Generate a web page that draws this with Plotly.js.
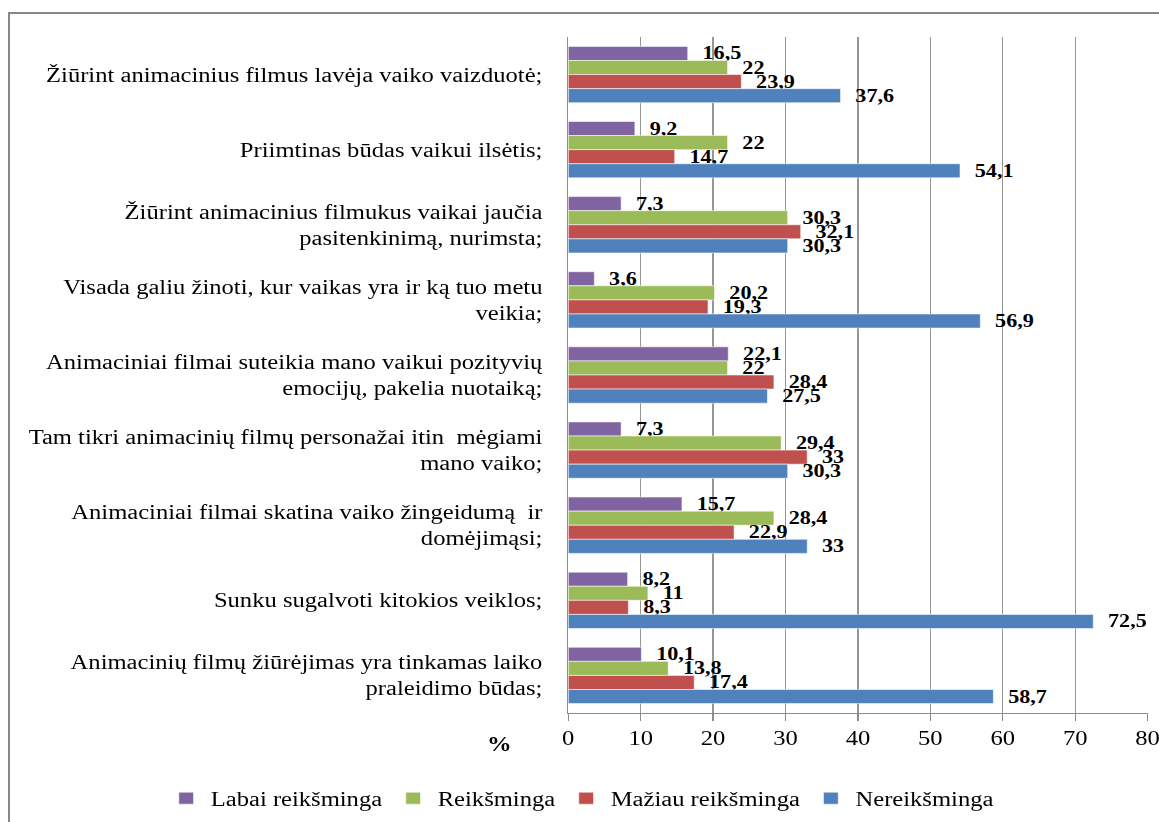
<!DOCTYPE html>
<html>
<head>
<meta charset="utf-8">
<script src="https://cdn.plot.ly/plotly-3.0.1.min.js"></script>
<style>
  html, body { margin: 0; padding: 0; background: #fff; }
  #wrap { position: relative; width: 1159px; height: 822px; overflow: hidden; }
  #chart { position: absolute; left: 0; top: 0; width: 950px; height: 822px;
           transform: scaleX(1.23); transform-origin: 0 0; }
  #frame { position: absolute; left: 8px; top: 12px; width: 1200px; height: 900px;
           border: 2px solid #878787; box-sizing: border-box; pointer-events: none; }
</style>
</head>
<body>
<div id="wrap"><div id="chart"></div><div id="frame"></div></div>
<script>
const categories = [
  "Žiūrint animacinius filmus lavėja vaiko vaizduotė;",
  "Priimtinas būdas vaikui ilsėtis;",
  "Žiūrint animacinius filmukus vaikai jaučia<br>pasitenkinimą, nurimsta;",
  "Visada galiu žinoti, kur vaikas yra ir ką tuo metu<br>veikia;",
  "Animaciniai filmai suteikia mano vaikui pozityvių<br>emocijų, pakelia nuotaiką;",
  "Tam tikri animacinių filmų personažai itin  mėgiami<br>mano vaiko;",
  "Animaciniai filmai skatina vaiko žingeidumą  ir<br>domėjimąsi;",
  "Sunku sugalvoti kitokios veiklos;",
  "Animacinių filmų žiūrėjimas yra tinkamas laiko<br>praleidimo būdas;"
];
const seriesNames = ["Labai reikšminga", "Reikšminga", "Mažiau reikšminga", "Nereikšminga"];
const labaiReiksminga   = [16.5, 9.2, 7.3, 3.6, 22.1, 7.3, 15.7, 8.2, 10.1];
const reiksminga        = [22, 22, 30.3, 20.2, 22, 29.4, 28.4, 11, 13.8];
const maziauReiksminga  = [23.9, 14.7, 32.1, 19.3, 28.4, 33, 22.9, 8.3, 17.4];
const nereiksminga      = [37.6, 54.1, 30.3, 56.9, 27.5, 30.3, 33, 72.5, 58.7];
const xTicks = [0, 10, 20, 30, 40, 50, 60, 70, 80];

const seriesValues = [labaiReiksminga, reiksminga, maziauReiksminga, nereiksminga];
const colors = ["#8064A2", "#9BBB59", "#C0504D", "#4F81BD"];
const serifFont = "Liberation Serif";

const traces = seriesValues.map((vals, i) => ({
  type: "bar",
  orientation: "h",
  name: seriesNames[i],
  y: categories,
  x: vals,
  marker: { color: colors[i], line: { color: "#ffffff", width: 0.5 } },
  text: vals.map(v => "  " + String(v).replace(".", ",")),
  textposition: "outside",
  constraintext: "none",
  cliponaxis: false,
  textfont: { family: serifFont, size: 18, color: "#000", weight: "bold" },
  hoverinfo: "x+name"
}));

const layout = {
  width: 950,
  height: 822,
  margin: { l: 462, r: 17, t: 37, b: 109, autoexpand: false },
  paper_bgcolor: "rgba(0,0,0,0)",
  plot_bgcolor: "#fff",
  barmode: "group",
  bargap: 0.25,
  bargroupgap: 0,
  showlegend: true,
  font: { family: serifFont, size: 20, color: "#000" },
  xaxis: {
    range: [0, 80],
    tickvals: xTicks,
    ticktext: xTicks.map(String),
    showgrid: true,
    gridcolor: "#969696",
    gridwidth: 1,
    zeroline: false,
    showline: true,
    linecolor: "#8c8c8c",
    ticks: "outside",
    ticklen: 7,
    tickcolor: "#8c8c8c",
    ticklabeloverflow: "allow",
    tickfont: { family: serifFont, size: 20, color: "#000" },
    fixedrange: true
  },
  yaxis: {
    autorange: "reversed",
    type: "category",
    showline: true,
    linecolor: "#8c8c8c",
    showgrid: false,
    ticks: "",
    ticklabelstandoff: 16,
    tickfont: { family: serifFont, size: 20, color: "#000" },
    fixedrange: true
  },
  legend: {
    orientation: "h",
    xref: "paper",
    yref: "paper",
    x: -0.702,
    xanchor: "left",
    y: -0.126,
    yanchor: "middle",
    traceorder: "normal",
    font: { family: serifFont, size: 20, color: "#000" },
    itemwidth: 30
  },
  annotations: [{
    text: "<b>%</b>",
    xref: "paper", yref: "paper",
    x: -0.118, y: -0.046,
    xanchor: "center", yanchor: "middle",
    showarrow: false,
    font: { family: serifFont, size: 20, color: "#000" }
  }]
};

Plotly.newPlot("chart", traces, layout, { displayModeBar: false, staticPlot: true });
</script>
</body>
</html>
